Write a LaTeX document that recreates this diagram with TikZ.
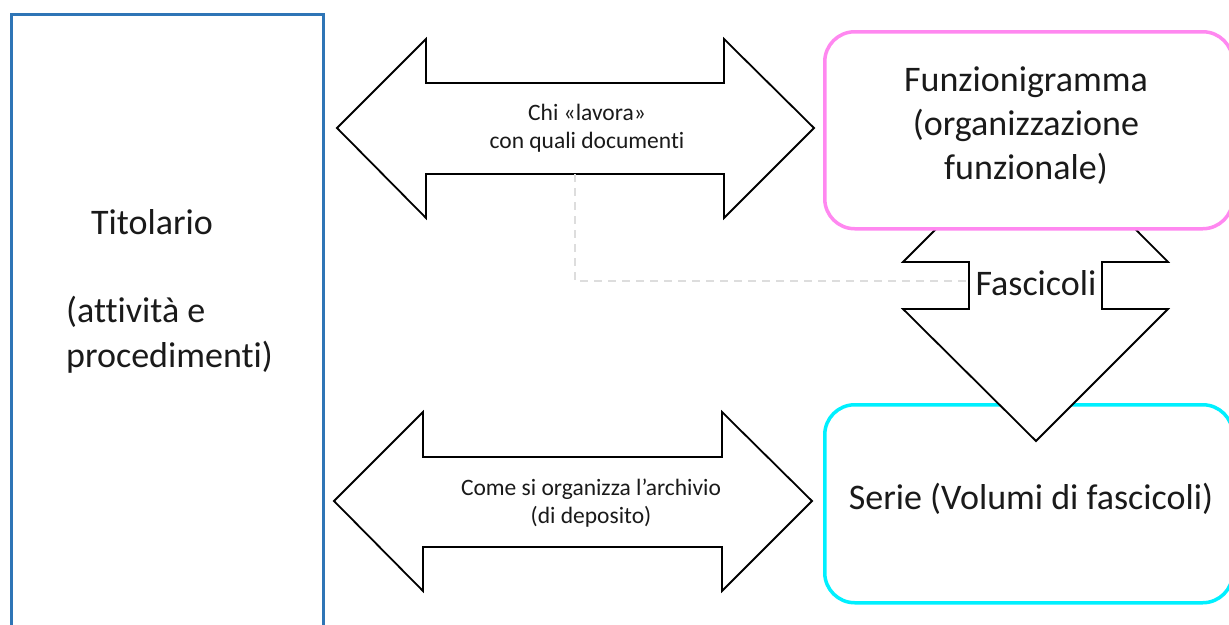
\documentclass[tikz,border=0pt]{standalone}
\usepackage{fontspec}
\setmainfont{Carlito}[Ligatures=NoCommon,RawFeature={-liga;-dlig;-clig}]
\definecolor{titblue}{HTML}{2E75B6}
\definecolor{fpink}{HTML}{FF88F0}
\definecolor{scyan}{HTML}{00F0FF}
\definecolor{dashgray}{HTML}{DDDDDD}
\definecolor{txt}{HTML}{1A1A1A}
\begin{document}
\begin{tikzpicture}[x=1pt,y=-1pt,
  titbox/.style={draw=titblue,line width=2.5pt,rectangle,anchor=north west,inner sep=0pt},
  roundbox/.style={rectangle,rounded corners=30pt,fill=white,line width=3.5pt,anchor=north west,inner sep=0pt,minimum width=408pt},
  bigarrow/.style={draw=black,fill=white,line width=1.8pt,line join=miter},
  bigtxt/.style={font=\fontsize{36}{44}\selectfont,text=txt,inner sep=0pt},
  smalltxt/.style={font=\fontsize{23.5}{28}\selectfont,text=txt,inner sep=0pt,align=center},
  guide/.style={draw=dashgray,line width=2pt,dash pattern=on 8pt off 6pt}
]
\useasboundingbox (0,0) rectangle (1229,624);
\clip (0,0) rectangle (1229,624);
\fill[white] (0,0) rectangle (1229,624);

% Titolario box
\node[titbox,minimum width=312pt,minimum height=640pt] (tit) at (10,13) {};
\node[bigtxt] (titl) at (152,222) {Titolario};
\node[bigtxt,anchor=west,align=left,font=\fontsize{36}{45}\selectfont] (titsub) at (66,334.5) {(attività e\\procedimenti)};

% top horizontal double arrow
\draw[bigarrow] (337,128) -- (426,39) -- (426,83) -- (724,83) -- (724,39) -- (814,128)
  -- (724,218) -- (724,174) -- (426,174) -- (426,218) -- cycle;
\node[smalltxt] (chi) at (587,128) {Chi «lavora»\\con quali documenti};

% bottom horizontal double arrow
\draw[bigarrow] (334,501) -- (423,412) -- (423,457) -- (722,457) -- (722,412) -- (812,501)
  -- (722,591) -- (722,547) -- (423,547) -- (423,591) -- cycle;
\node[smalltxt] (come) at (591,503) {Come si organizza l’archivio\\(di deposito)};

% dashed guide
\coordinate (g1) at (575,174);
\coordinate (g2) at (575,281);
\coordinate (g3) at (969,281);
\draw[guide] (g1) -- (g2) -- (g3);

% Serie box
\node[roundbox,draw=scyan,minimum height=198pt] (serie) at (823,403) {};

% vertical double arrow
\draw[bigarrow] (1036,129) -- (1168,262) -- (1102,262) -- (1102,309) -- (1168,309) -- (1036,441)
  -- (903,309) -- (969,309) -- (969,262) -- (903,262) -- cycle;

% Funzionigramma box
\node[roundbox,draw=fpink,minimum height=197pt] (funz) at (823,30) {};

\node[bigtxt,align=center] (funzt) at (1026,126) {Funzionigramma\\(organizzazione\\funzionale)};
\node[bigtxt] (fasc) at (1036,283) {Fascicoli};
\node[bigtxt] (seriet) at (1031,499) {Serie (Volumi di fascicoli)};
\end{tikzpicture}
\end{document}
